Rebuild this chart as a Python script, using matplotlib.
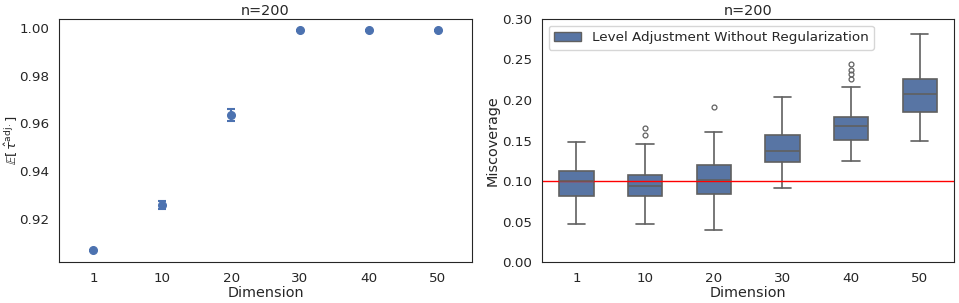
import matplotlib
matplotlib.use("Agg")
import matplotlib.pyplot as plt
from matplotlib.patches import Patch
import seaborn as sns

# --------------------------------
# Data
# --------------------------------
dims = ["1", "10", "20", "30", "40", "50"]

# left panel: mean adjusted level and its error half-width
tau_mean = [0.9066, 0.9257, 0.9636, 0.9991, 0.9991, 0.9991]
tau_err = [0.0002, 0.0018, 0.0024, 0.0001, 0.0001, 0.0001]

# right panel: box stats of the miscoverage
whis_lo = [0.047, 0.0465, 0.040, 0.091, 0.1247, 0.1494]
q1 = [0.0815, 0.081, 0.0843, 0.1235, 0.151, 0.1852]
med = [0.0995, 0.0934, 0.1008, 0.1366, 0.1683, 0.2074]
q3 = [0.1119, 0.1074, 0.1197, 0.1563, 0.1785, 0.2254]
whis_hi = [0.148, 0.146, 0.161, 0.2032, 0.2156, 0.281]
fliers = [[], [0.157, 0.165], [0.191], [], [0.226, 0.232, 0.237, 0.245], []]

target = 0.10
legend_label = "Level Adjustment Without Regularization"

sns.set_style("white")
plt.rcParams["font.family"] = ["DejaVu Sans"]

blue = "#4C72B0"
box_blue = "#5875A4"
line_gray = "#606060"
tick_fs = 9.7
label_fs = 10.4

fig = plt.figure(figsize=(9.59, 3.03), dpi=100)
ax1 = fig.add_axes([0.0615, 0.1353, 0.4307, 0.802])
ax2 = fig.add_axes([0.5652, 0.1353, 0.4296, 0.802])

# --------------------------------
# Left: point plot with error bars
# --------------------------------
pos = list(range(len(dims)))
ax1.errorbar(pos, tau_mean, yerr=tau_err, fmt="o", color=blue,
             markersize=5.5, capsize=3, elinewidth=1.5, capthick=1.5)
ax1.set_xlim(-0.5, len(dims) - 0.5)
ax1.set_xticks(pos)
ax1.set_xticklabels(dims)
ax1.set_yticks([0.92, 0.94, 0.96, 0.98, 1.00])
ax1.tick_params(labelsize=tick_fs)
ax1.set_xlabel("Dimension", fontsize=label_fs, labelpad=1)
ax1.set_ylabel(r"$\mathbb{E}[\,\hat{\tau}^{\mathrm{adj.}}]$", fontsize=9.5)
ax1.yaxis.set_label_coords(-0.095, 0.5)
ax1.set_title("n=200", fontsize=label_fs, pad=3)

# --------------------------------
# Right: box plot of miscoverage
# --------------------------------
stats = []
for i in range(len(dims)):
    stats.append({"med": med[i], "q1": q1[i], "q3": q3[i],
                  "whislo": whis_lo[i], "whishi": whis_hi[i],
                  "fliers": fliers[i]})

ax2.bxp(stats, positions=pos, widths=0.5, capwidths=0.25, patch_artist=True,
        boxprops=dict(facecolor=box_blue, edgecolor=line_gray, linewidth=1.2),
        medianprops=dict(color=line_gray, linewidth=1.2),
        whiskerprops=dict(color=line_gray, linewidth=1.2),
        capprops=dict(color=line_gray, linewidth=1.2),
        flierprops=dict(marker="o", markersize=3.5, markerfacecolor="none",
                        markeredgecolor=line_gray, markeredgewidth=0.9))
ax2.axhline(target, color="red", linewidth=1)
ax2.set_xlim(-0.5, len(dims) - 0.5)
ax2.set_ylim(0, 0.30)
ax2.set_xticks(pos)
ax2.set_xticklabels(dims)
ax2.set_yticks([0, 0.05, 0.10, 0.15, 0.20, 0.25, 0.30])
ax2.set_yticklabels(["0.00", "0.05", "0.10", "0.15", "0.20", "0.25", "0.30"])
ax2.tick_params(labelsize=tick_fs)
ax2.set_xlabel("Dimension", fontsize=label_fs, labelpad=1)
ax2.set_ylabel("Miscoverage", fontsize=label_fs, labelpad=2)
ax2.set_title("n=200", fontsize=label_fs, pad=3)
ax2.legend(handles=[Patch(facecolor=box_blue, edgecolor=line_gray, label=legend_label)],
           loc="upper left", fontsize=tick_fs)

fig.savefig("out.png", dpi=100)
